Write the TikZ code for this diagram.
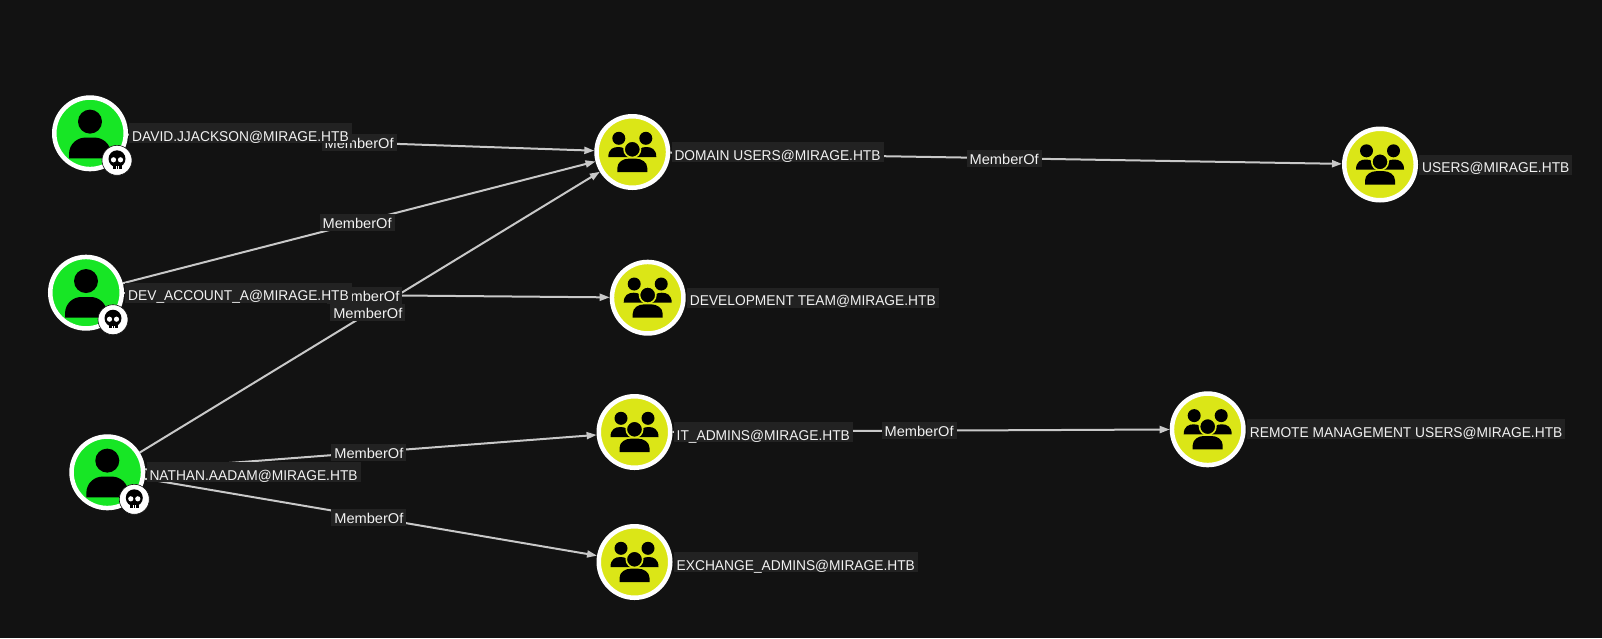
\documentclass[tikz,border=0pt]{standalone}
\usepackage{fontspec}
\setmainfont[FakeStretch=0.97]{Liberation Sans}
\newfontfamily\edgefont[FakeStretch=1.03]{Liberation Sans}
\usetikzlibrary{arrows.meta}
\definecolor{bgc}{HTML}{121212}
\definecolor{lblbg}{HTML}{222222}
\definecolor{edgec}{HTML}{C8C8C8}
\definecolor{usergreen}{HTML}{17E625}
\definecolor{groupyellow}{HTML}{DBE617}
\definecolor{txtc}{HTML}{F2F2F2}
\pgfdeclarelayer{bg}
\pgfdeclarelayer{edges}
\pgfdeclarelayer{edgelabels}
\pgfsetlayers{bg,edges,edgelabels,main}
\tikzset{
  entity/.style={circle,draw=white,line width=4.5pt,minimum size=71.5pt,inner sep=0pt},
  usernode/.style={entity,fill=usergreen},
  groupnode/.style={entity,fill=groupyellow},
  namelabel/.style={anchor=west,fill=lblbg,text=txtc,font=\fontsize{14.2}{16}\selectfont,
    inner xsep=3pt,inner ysep=0pt,text height=18pt,text depth=2pt},
  edgelabel/.style={fill=lblbg,text=txtc,font=\edgefont\fontsize{14.2}{16}\selectfont,
    inner xsep=3pt,inner ysep=0pt,text height=14.6pt,text depth=2.4pt},
  memberedge/.style={draw=edgec,line width=2pt,-{Triangle[length=10pt,width=7pt]}},
  usericon/.pic={
    \fill[black] (0,-11.7) circle (12);
    \fill[black] (-21,25) -- (-21,21) .. controls (-21,10) and (-12,4.3) .. (-5,4.3)
      -- (5,4.3) .. controls (12,4.3) and (21,10) .. (21,21) -- (21,25) -- cycle;
    \fill[white] (27,27) circle (15);
    \draw[bgc,line width=.6pt] (27,27) circle (15);
    \fill[black] (27,25.5) circle (8.5);
    \fill[black] (22.5,28) rectangle (31.5,35.5);
    \fill[white] (23.5,26.5) circle (2.6);
    \fill[white] (30.5,26.5) circle (2.6);
    \fill[white] (26.1,33) rectangle (26.7,35.5);
    \fill[white] (28.3,33) rectangle (27.7,35.5);
  },
  groupicon/.pic={
    \fill[black] (-13.5,-13.7) circle (6.5);
    \fill[black] (13.5,-13.7) circle (6.5);
    \fill[black] (-24,5) .. controls (-24,-3) and (-19,-5) .. (-14,-5)
      .. controls (-9,-5) and (-5,-3) .. (-4,5) -- cycle;
    \fill[black] (24,5) .. controls (24,-3) and (19,-5) .. (14,-5)
      .. controls (9,-5) and (5,-3) .. (4,5) -- cycle;
    \fill[black,draw=groupyellow,line width=1.6pt] (0,-2.7) circle (8.2);
    \fill[black] (-15,20) -- (-15,16) .. controls (-15,10) and (-9,6.7) .. (-4,6.7)
      -- (4,6.7) .. controls (9,6.7) and (15,10) .. (15,16) -- (15,20) -- cycle;
  }
}
\begin{document}
\begin{tikzpicture}[x=1pt,y=-1pt]
\useasboundingbox (0,0) rectangle (1602,638);
\begin{pgfonlayer}{bg}
  \fill[bgc] (0,0) rectangle (1602,638);
\end{pgfonlayer}
% entities
\node[usernode] (david) at (90,133.3) {};
\node[usernode] (dev) at (86,292.7) {};
\node[usernode] (nathan) at (107.3,472.3) {};
\node[groupnode] (domain) at (632.3,152) {};
\node[groupnode] (devteam) at (647.7,297.7) {};
\node[groupnode] (it) at (634.5,432) {};
\node[groupnode] (exch) at (634.5,562) {};
\node[groupnode] (users) at (1380,164.5) {};
\node[groupnode] (remote) at (1207.7,429.3) {};
\pic at (david) {usericon};
\pic at (dev) {usericon};
\pic at (nathan) {usericon};
\pic at (domain) {groupicon};
\pic at (devteam) {groupicon};
\pic at (it) {groupicon};
\pic at (exch) {groupicon};
\pic at (users) {groupicon};
\pic at (remote) {groupicon};
% edges
\begin{pgfonlayer}{edges}
  \draw[memberedge] (david) -- coordinate[midway] (m1) (domain);
  \draw[memberedge] (dev) -- coordinate[midway] (m2) (domain);
  \draw[memberedge] (dev) -- coordinate[midway] (m3) (devteam);
  \draw[memberedge] (nathan) -- coordinate[midway] (m4) (domain);
  \draw[memberedge] (nathan) -- coordinate[midway] (m5) (it);
  \draw[memberedge] (nathan) -- coordinate[midway] (m6) (exch);
  \draw[memberedge] (domain) -- coordinate[midway] (m7) (users);
  \draw[memberedge] (it) -- coordinate[midway] (m8) (remote);
\end{pgfonlayer}
\begin{pgfonlayer}{edgelabels}
  \node[edgelabel,xshift=-2pt] (e1) at (m1) {MemberOf};
  \node[edgelabel,xshift=-2pt] (e2) at (m2) {MemberOf};
  \node[edgelabel,xshift=-2pt] (e3) at (m3) {MemberOf};
  \node[edgelabel,xshift=-2pt] (e4) at (m4) {MemberOf};
  \node[edgelabel,xshift=-2pt] (e5) at (m5) {MemberOf};
  \node[edgelabel,xshift=-2pt] (e6) at (m6) {MemberOf};
  \node[edgelabel,xshift=-2pt] (e7) at (m7) {MemberOf};
  \node[edgelabel,xshift=-2pt] (e8) at (m8) {MemberOf};
\end{pgfonlayer}
% names
\node[namelabel] (ldavid) at ([xshift=1pt]david.east) {DAVID.JJACKSON@MIRAGE.HTB};
\node[namelabel] (ldev) at ([xshift=1pt]dev.east) {DEV\_ACCOUNT\_A@MIRAGE.HTB};
\node[namelabel] (lnathan) at ([xshift=1pt]nathan.east) {NATHAN.AADAM@MIRAGE.HTB};
\node[namelabel] (ldomain) at ([xshift=1pt]domain.east) {DOMAIN USERS@MIRAGE.HTB};
\node[namelabel] (ldevteam) at ([xshift=1pt]devteam.east) {DEVELOPMENT TEAM@MIRAGE.HTB};
\node[namelabel] (lit) at ([xshift=1pt]it.east) {IT\_ADMINS@MIRAGE.HTB};
\node[namelabel] (lexch) at ([xshift=1pt]exch.east) {EXCHANGE\_ADMINS@MIRAGE.HTB};
\node[namelabel] (lusers) at ([xshift=1pt]users.east) {USERS@MIRAGE.HTB};
\node[namelabel] (lremote) at ([xshift=1pt]remote.east) {REMOTE MANAGEMENT USERS@MIRAGE.HTB};
\end{tikzpicture}
\end{document}
